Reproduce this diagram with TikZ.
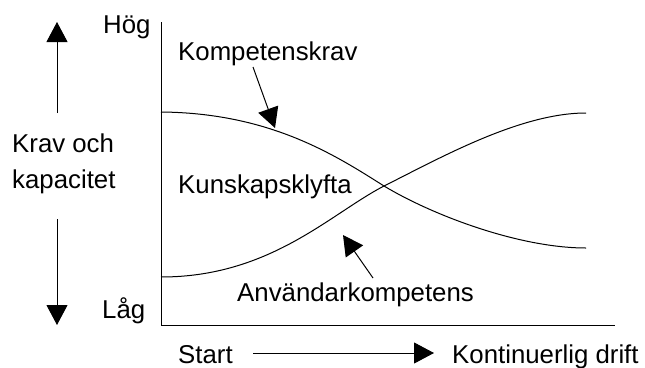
\documentclass[tikz,border=0pt]{standalone}
\usepackage{fontspec}
\setmainfont{Liberation Sans}
\usetikzlibrary{arrows.meta}
\begin{document}
\begin{tikzpicture}[x=1pt,y=-1pt,
  lbl/.style={inner sep=0pt,anchor=base west,font=\fontsize{25.8}{30}\selectfont},
  thin line/.style={line width=1pt},
  pointer/.style={line width=1pt,-{Triangle[length=20pt,width=21pt]}}]
\useasboundingbox (0,0) rectangle (645,367);
% texts
\node[lbl] (hog) at (103,33) {Hög};
\node[lbl] (lag) at (102,318) {Låg};
\node[lbl] (krav) at (12,152) {Krav och};
\node[lbl] (kap) at (12,188) {kapacitet};
\node[lbl] (komp) at (178,60) {Kompetenskrav};
\node[lbl] (klyfta) at (178,193) {Kunskapsklyfta};
\node[lbl] (anv) at (237,301) {Användarkompetens};
\node[lbl] (start) at (178,363) {Start};
\node[lbl] (drift) at (452,363) {Kontinuerlig drift};
% axes
\coordinate (top) at (161,22);
\coordinate (origin) at (161,325);
\coordinate (xend) at (615,325);
\draw[thin line] (top) -- (origin) -- (xend);
% curves
\coordinate (A) at (161,112);
\coordinate (C) at (384,186);
\coordinate (B) at (586,248);
\coordinate (D) at (161,277);
\coordinate (E) at (586,113);
\draw[thin line] (A) .. controls (270,113) and (335,155) .. (C)
  .. controls (434,216) and (520,248) .. (B);
\draw[thin line] (D) .. controls (270,277) and (330,214) .. (C)
  .. controls (440,158) and (520,113) .. (E);
% vertical arrows
\coordinate (upS) at (57,113);
\coordinate (upT) at (57,22);
\coordinate (dnS) at (57,219);
\coordinate (dnT) at (57,325);
\draw[pointer] (upS) -- (upT);
\draw[pointer] (dnS) -- (dnT);
% label pointers
\coordinate (kS) at (253,67);
\coordinate (kT) at (275,128);
\draw[pointer] (kS) -- (kT);
\coordinate (aS) at (373,278);
\coordinate (aT) at (343,235);
\draw[pointer] (aS) -- (aT);
% time arrow
\coordinate (tS) at (253,353);
\coordinate (tT) at (434,353);
\draw[pointer] (tS) -- (tT);
\end{tikzpicture}
\end{document}
